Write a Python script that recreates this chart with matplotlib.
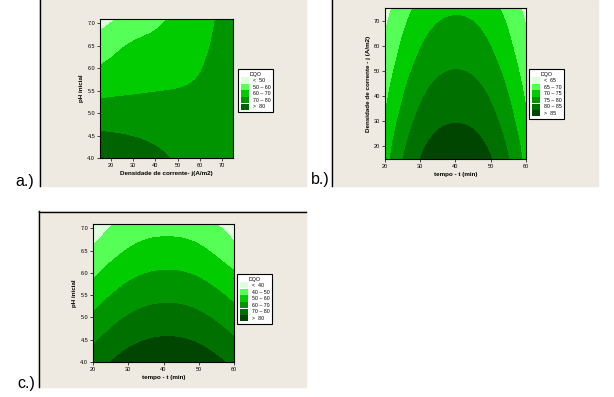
import numpy as np
import matplotlib
matplotlib.use('Agg')
import matplotlib.pyplot as plt
import matplotlib.tri as mtri
from matplotlib.patches import Patch, Rectangle
from matplotlib.lines import Line2D

plt.rcParams['font.family'] = ['Liberation Sans', 'DejaVu Sans']

W, H = 614, 397

# a.) pH inicial x densidade de corrente
a_j = [15, 30, 45, 60, 75]
a_ph = [4.0, 4.5, 5.0, 5.5, 6.0, 6.5, 7.1]
a_dqo = [
    [88.2, 85.1, 80.5, 75.6, 73.5],
    [81.3, 79.7, 77.0, 74.3, 73.3],
    [74.3, 74.2, 73.5, 72.9, 73.2],
    [67.5, 69.1, 70.0, 71.1, 73.1],
    [60.9, 65.1, 66.9, 69.7, 73.1],
    [54.3, 61.1, 63.8, 68.4, 73.2],
    [46.4, 53.3, 60.0, 66.8, 73.5],
]
a_niveis = [50, 60, 70, 80]
a_rotulos = ['<  50', '50 \u2013 60', '60 \u2013 70', '70 \u2013 80', '>  80']

# b.) densidade de corrente x tempo
b_t = [20, 30, 40, 50, 60]
b_j = [15, 30, 45, 60, 75]
b_dqo = [
    [72.8, 85.0, 88.4, 85.2, 73.3],
    [70.4, 81.5, 84.8, 81.7, 70.9],
    [68.0, 78.1, 81.3, 78.3, 68.5],
    [65.6, 74.7, 77.8, 74.9, 66.1],
    [63.2, 71.3, 74.2, 71.6, 63.7],
]
b_niveis = [65, 70, 75, 80, 85]
b_rotulos = ['<  65', '65 \u2013 70', '70 \u2013 75', '75 \u2013 80', '80 \u2013 85', '>  85']

# c.) pH inicial x tempo
c_t = [20, 30, 40, 50, 60]
c_ph = [4.0, 4.5, 5.0, 5.5, 6.0, 6.5, 7.1]
c_dqo = [
    [74.9, 84.1, 87.6, 85.4, 77.6],
    [68.2, 77.4, 80.9, 78.7, 70.9],
    [61.5, 70.7, 74.2, 72.0, 64.2],
    [54.8, 64.0, 67.5, 65.3, 57.5],
    [48.1, 57.3, 60.8, 58.6, 50.8],
    [41.4, 50.6, 54.1, 51.9, 43.0],
    [33.4, 43.5, 46.1, 43.9, 35.0],
]
c_niveis = [40, 50, 60, 70, 80]
c_rotulos = ['<  40', '40 \u2013 50', '50 \u2013 60', '60 \u2013 70', '70 \u2013 80', '>  80']

verdes5 = ['#dcffdc', '#55ff55', '#00cc00', '#009400', '#006400']
verdes6 = ['#dcffdc', '#55ff55', '#00cc00', '#009400', '#007000', '#004600']
bege = '#eeeae1'


def caixa(x0, y0, x1, y1):
    return [x0 / W, 1 - y1 / H, (x1 - x0) / W, (y1 - y0) / H]


def superficie(ax, xs, ys, zs, niveis, cores):
    xs = np.asarray(xs, float)
    ys = np.asarray(ys, float)
    zs = np.asarray(zs, float)
    X, Y = np.meshgrid(xs, ys)
    dx, dy = xs.max() - xs.min(), ys.max() - ys.min()
    tri = mtri.Triangulation(((X - xs.min()) / dx).ravel(), ((Y - ys.min()) / dy).ravel())
    tri_r, z_r = mtri.UniformTriRefiner(tri).refine_field(zs.ravel(), subdiv=4)
    tri_xy = mtri.Triangulation(xs.min() + tri_r.x * dx, ys.min() + tri_r.y * dy, tri_r.triangles)
    ax.tricontourf(tri_xy, z_r, levels=[-1000] + niveis + [1000], colors=cores, antialiased=False)
    ax.set_xlim(xs.min(), xs.max())
    ax.set_ylim(ys.min(), ys.max())


def estilo(ax, xlabel, ylabel):
    ax.set_xlabel(xlabel, fontsize=4.5, fontweight='bold', labelpad=2)
    ax.set_ylabel(ylabel, fontsize=4.5, fontweight='bold', labelpad=2)
    ax.tick_params(labelsize=4, length=2, width=0.5, pad=1.5)
    for s in ax.spines.values():
        s.set_linewidth(0.8)


def legenda(fig, x0, y0, cores, rotulos):
    alcas = [Patch(facecolor=c, edgecolor='none') for c in cores]
    leg = fig.legend(alcas, rotulos, loc='upper left', bbox_to_anchor=(x0 / W, 1 - y0 / H),
                     bbox_transform=fig.transFigure, fontsize=3.8, title='DQO', title_fontsize=3.8,
                     frameon=True, fancybox=False, edgecolor='black', framealpha=1,
                     handlelength=1.5, handleheight=1.4, handletextpad=0.8, labelspacing=0.1,
                     borderpad=0.5, borderaxespad=0)
    leg.get_frame().set_linewidth(0.8)


fig = plt.figure(figsize=(6.14, 3.97), dpi=100, facecolor='white')

# fundos bege e bordas
for (x0, y0, x1, y1) in [(39, 0, 306, 186), (331, 0, 598, 186), (38, 211, 306, 387)]:
    fig.patches.append(Rectangle((x0 / W, 1 - y1 / H), (x1 - x0) / W, (y1 - y0) / H,
                                 transform=fig.transFigure, color=bege, zorder=-5))
fig.add_artist(Line2D([39.5 / W] * 2, [1, 1 - 186 / H], color='black', lw=1))
fig.add_artist(Line2D([331.5 / W] * 2, [1, 1 - 186 / H], color='black', lw=1))
fig.add_artist(Line2D([38.5 / W] * 2, [1 - 211 / H, 1 - 387 / H], color='black', lw=1))
fig.add_artist(Line2D([38.5 / W, 306 / W], [1 - 211.5 / H] * 2, color='black', lw=1))

ax_a = fig.add_axes(caixa(100, 19, 233, 158), zorder=2)
superficie(ax_a, a_j, a_ph, a_dqo, a_niveis, verdes5)
ax_a.set_xticks([20, 30, 40, 50, 60, 70])
ax_a.set_yticks([4.0, 4.5, 5.0, 5.5, 6.0, 6.5, 7.0])
ax_a.yaxis.set_major_formatter('{x:.1f}')
estilo(ax_a, 'Densidade de corrente- j(A/m2)', 'pH inicial')
legenda(fig, 238, 69, verdes5, a_rotulos)

ax_b = fig.add_axes(caixa(385, 8, 526, 159), zorder=2)
superficie(ax_b, b_t, b_j, b_dqo, b_niveis, verdes6)
ax_b.set_xticks([20, 30, 40, 50, 60])
ax_b.set_yticks([20, 30, 40, 50, 60, 70])
estilo(ax_b, 'tempo - t (min)', 'Densidade de corrente - j (A/m2)')
legenda(fig, 529, 69, verdes6, b_rotulos)

ax_c = fig.add_axes(caixa(93, 224, 234, 362), zorder=2)
superficie(ax_c, c_t, c_ph, c_dqo, c_niveis, verdes6)
ax_c.set_xticks([20, 30, 40, 50, 60])
ax_c.set_yticks([4.0, 4.5, 5.0, 5.5, 6.0, 6.5, 7.0])
ax_c.yaxis.set_major_formatter('{x:.1f}')
estilo(ax_c, 'tempo - t (min)', 'pH inicial')
legenda(fig, 237, 274, verdes6, c_rotulos)

for txt, x, y in [('a.)', 15, 186), ('b.)', 311, 184), ('c.)', 17, 388)]:
    fig.text(x / W, 1 - y / H, txt, fontsize=11.5, va='baseline', ha='left')

fig.savefig('out.png', dpi=100, facecolor='white')
